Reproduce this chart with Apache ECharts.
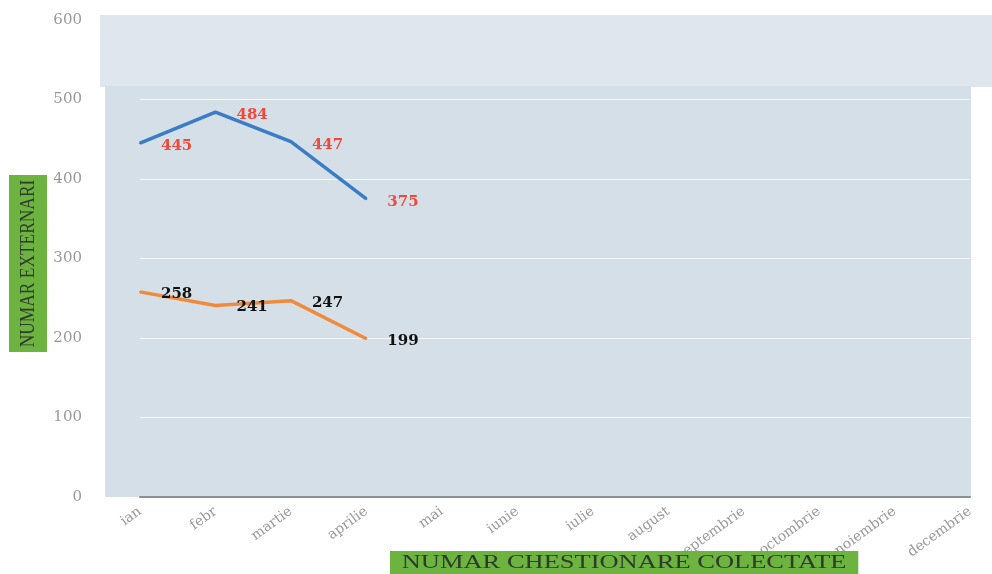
<!DOCTYPE html>
<html>
<head>
<meta charset="utf-8">
<script src="https://cdn.jsdelivr.net/npm/echarts@6/dist/echarts.min.js"></script>
<style>
  html, body { margin: 0; padding: 0; background: #ffffff; }
  #chart { width: 992px; height: 574px; }
</style>
</head>
<body>
<div id="chart"></div>
<script>
// Months of the year (x axis)
var months = ['ian', 'febr', 'martie', 'aprilie', 'mai', 'iunie', 'iulie', 'august',
              'septembrie', 'octombrie', 'noiembrie', 'decembrie'];
// Monthly values, first four months collected
var externari = [445, 484, 447, 375];
var chestionare = [258, 241, 247, 199];
// Value axis ticks
var yMin = 0, yMax = 600, yStep = 100;

var serif = '"Liberation Serif", "DejaVu Serif", serif';
var wideSerif = '"DejaVu Serif", "Liberation Serif", serif';
var blue = '#3b7cc6', orange = '#f08a3c';

var chart = echarts.init(document.getElementById('chart'));
chart.setOption({
  backgroundColor: '#ffffff',
  animation: false,
  graphic: [
    { type: 'rect', z: -20, silent: true, shape: { x: 100, y: 15, width: 892, height: 72 },
      style: { fill: '#dfe6ed' } },
    { type: 'rect', z: -19, silent: true, shape: { x: 105, y: 86, width: 866, height: 411 },
      style: { fill: '#d5dfe8' } },
    { type: 'text', z: 10, left: 390, top: 551, scaleX: 1.47, scaleY: 1,
      style: { text: 'NUMAR CHESTIONARE COLECTATE', font: '18px ' + serif, fill: '#2f3b2c',
               backgroundColor: '#6cb33f', padding: [3, 8, 6, 8] } },
    { type: 'text', z: 10, left: 9, top: 175, rotation: Math.PI / 2, scaleX: 0.79,
      style: { text: 'NUMAR EXTERNARI', font: '22px ' + serif, fill: '#2f3b2c',
               backgroundColor: '#6cb33f', padding: [8, 6, 8, 6] } }
  ],
  grid: { left: 140, right: 22, top: 20, bottom: 77, containLabel: false },
  xAxis: {
    type: 'category',
    data: months,
    boundaryGap: false,
    axisLine: { show: true, lineStyle: { color: '#8a9096', width: 2 } },
    axisTick: { show: false },
    axisLabel: { rotate: 36, color: '#999999', fontFamily: wideSerif, fontSize: 14, margin: 13, interval: 0 },
    splitLine: { show: false }
  },
  yAxis: {
    type: 'value',
    min: yMin, max: yMax, interval: yStep,
    axisLine: { show: false },
    axisTick: { show: false },
    axisLabel: { color: '#999999', fontFamily: wideSerif, fontSize: 15, margin: 58 },
    splitLine: { show: true, showMaxLine: false, lineStyle: { color: 'rgba(255,255,255,0.75)', width: 1 } }
  },
  series: [
    {
      name: 'externari', type: 'line', data: externari,
      symbol: 'circle', symbolSize: 2, showSymbol: true,
      itemStyle: { color: blue, borderWidth: 0 },
      lineStyle: { color: blue, width: 3.5 },
      label: { show: true, position: 'right', distance: 20, offset: [0, 3], color: '#f0493b',
               fontFamily: wideSerif, fontWeight: 'bold', fontSize: 15 }
    },
    {
      name: 'chestionare', type: 'line', data: chestionare,
      symbol: 'circle', symbolSize: 2, showSymbol: true,
      itemStyle: { color: orange, borderWidth: 0 },
      lineStyle: { color: orange, width: 3.5 },
      label: { show: true, position: 'right', distance: 20, offset: [0, 2], color: '#111111',
               fontFamily: wideSerif, fontWeight: 'bold', fontSize: 15 }
    }
  ]
});
</script>
</body>
</html>
